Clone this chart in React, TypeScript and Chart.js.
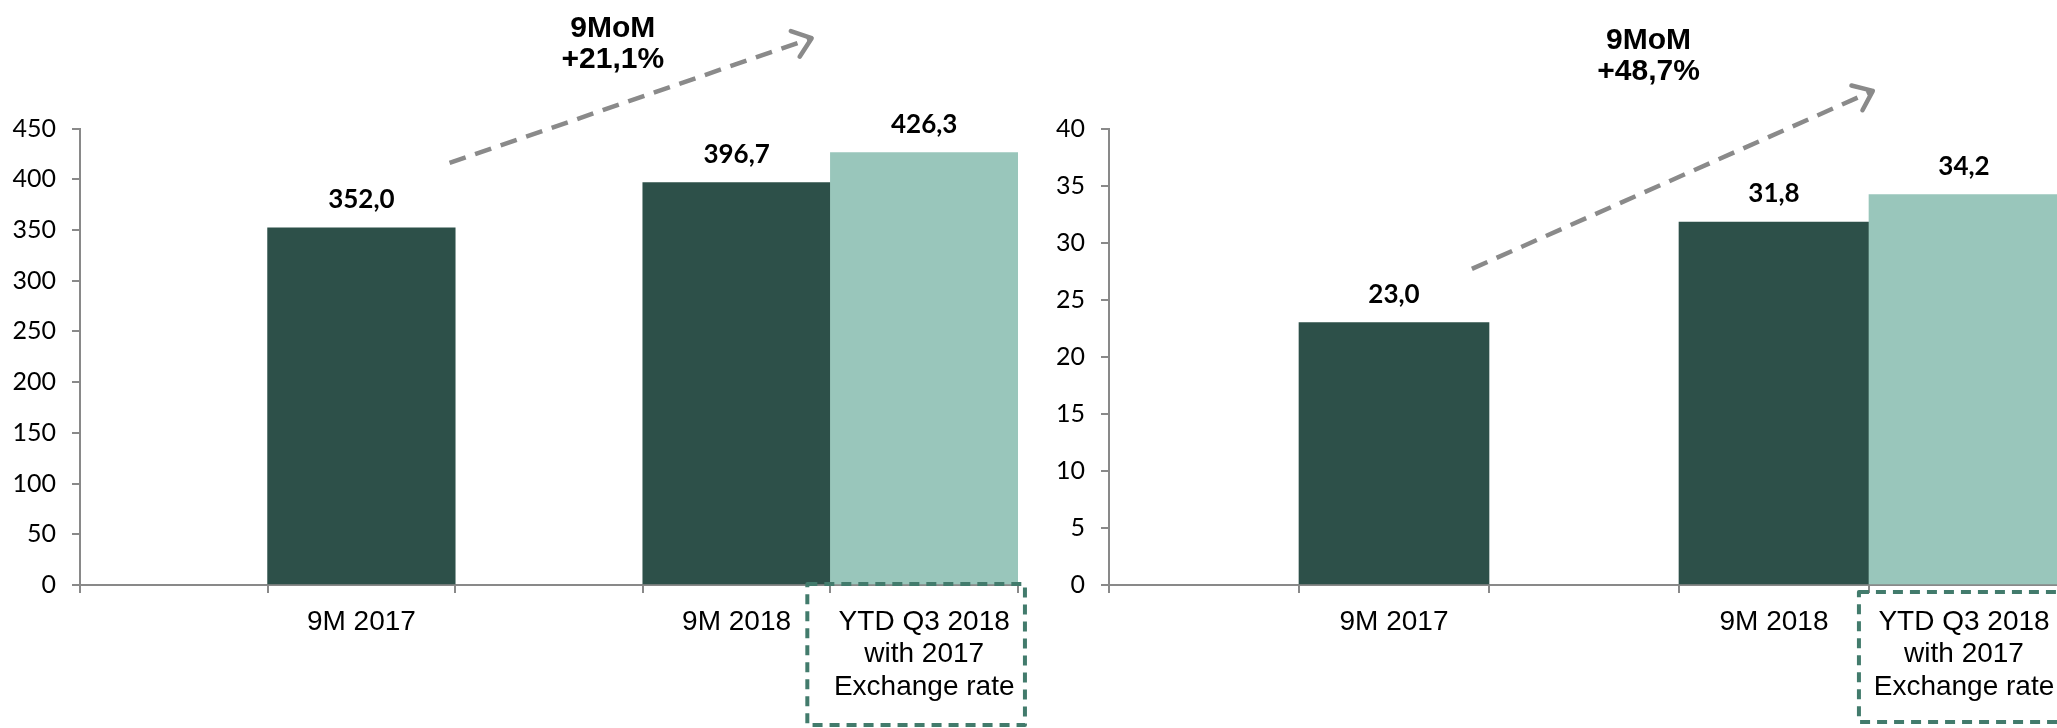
import React, { useEffect, useRef } from "react";
import { Chart, registerables } from "chart.js";

Chart.register(...registerables);

// ---------- data ----------
const categories: (string | string[])[] = [
  "",
  "9M 2017",
  "",
  "9M 2018",
  ["YTD Q3 2018", "with 2017", "Exchange rate"],
];
const leftValues: (number | null)[] = [null, 352.0, null, 396.7, 426.3];
const rightValues: (number | null)[] = [null, 23.0, null, 31.8, 34.2];
const leftTickRange = [0, 450, 50]; // min, max, step
const rightTickRange = [0, 40, 5];
const leftGrowth = ["9MoM", "+21,1%"];
const rightGrowth = ["9MoM", "+48,7%"];

// ---------- styles ----------
const DARK = "#2d5049";
const LIGHT = "#99c6bb";
const barColors = [DARK, DARK, DARK, DARK, LIGHT];
const AXIS = "#898989";
const ARROW = "#8a8a8a";
const BOX = "#427b6c";

const fmt = (v: number) => v.toFixed(1).replace(".", ",");

// annotation placement (in scale units: category index / axis value)
const leftAnn = {
  arrow: { x0: 1.47, y0: 416, x1: 3.4, y1: 539 },
  textX: 2.34,
  textY: [548, 518],
  lines: leftGrowth,
  box: { x0: 3.377, x1: 4.537, top: -1, bottom: 140 },
};
const rightAnn = {
  arrow: { x0: 1.41, y0: 27.7, x1: 3.52, y1: 43.3 },
  textX: 2.34,
  textY: [47.67, 44.95],
  lines: rightGrowth,
  box: { x0: 3.447, x1: 4.7, top: 7, bottom: 137 },
};

const overlayPlugin = {
  id: "overlay",
  afterDraw(chart: any, _args: any, opts: any) {
    const ctx: CanvasRenderingContext2D = chart.ctx;
    const xs = chart.scales.x;
    const ys = chart.scales.y;
    const ca = chart.chartArea;
    ctx.save();

    // value labels
    const meta = chart.getDatasetMeta(0);
    const data = chart.data.datasets[0].data;
    ctx.font = "bold 26px Lato";
    ctx.fillStyle = "#000";
    ctx.textAlign = "center";
    ctx.textBaseline = "alphabetic";
    meta.data.forEach((el: any, i: number) => {
      const v = data[i];
      if (v == null) return;
      ctx.fillText(fmt(v), el.x, el.y - 20);
    });

    // growth text
    ctx.font = "bold 30px 'Liberation Sans', Arial";
    ctx.textBaseline = "middle";
    const tx = xs.getPixelForValue(opts.textX);
    opts.lines.forEach((t: string, i: number) => {
      ctx.fillText(t, tx, ys.getPixelForValue(opts.textY[i]));
    });

    // dashed arrow
    const a = opts.arrow;
    const x0 = xs.getPixelForValue(a.x0);
    const y0 = ys.getPixelForValue(a.y0);
    const x1 = xs.getPixelForValue(a.x1);
    const y1 = ys.getPixelForValue(a.y1);
    ctx.strokeStyle = ARROW;
    ctx.lineWidth = 4.5;
    ctx.setLineDash([17, 10]);
    ctx.beginPath();
    ctx.moveTo(x0, y0);
    ctx.lineTo(x1, y1);
    ctx.stroke();
    ctx.setLineDash([]);
    const ang = Math.atan2(y1 - y0, x1 - x0);
    const L = 22;
    const spread = (38 * Math.PI) / 180;
    ctx.lineCap = "round";
    ctx.lineJoin = "round";
    ctx.beginPath();
    ctx.moveTo(x1 - L * Math.cos(ang - spread), y1 - L * Math.sin(ang - spread));
    ctx.lineTo(x1, y1);
    ctx.lineTo(x1 - L * Math.cos(ang + spread), y1 - L * Math.sin(ang + spread));
    ctx.stroke();

    // dashed box around last category label
    const b = opts.box;
    const bx0 = xs.getPixelForValue(b.x0);
    const bx1 = xs.getPixelForValue(b.x1);
    const by0 = ca.bottom + b.top;
    const by1 = ca.bottom + b.bottom;
    ctx.strokeStyle = BOX;
    ctx.lineWidth = 4;
    ctx.lineCap = "butt";
    ctx.setLineDash([10, 7]);
    ctx.strokeRect(bx0, by0, bx1 - bx0, by1 - by0);
    ctx.restore();
  },
};

interface Props {
  values: (number | null)[];
  range: number[];
  ann: any;
  left: number;
  width: number;
  height: number;
  yAxisWidth: number;
  padRight: number;
}

function BarChart({ values, range, ann, left, width, height, yAxisWidth, padRight }: Props) {
  const ref = useRef<HTMLCanvasElement>(null);
  useEffect(() => {
    const chart = new Chart(ref.current as HTMLCanvasElement, {
      type: "bar",
      data: {
        labels: categories as any,
        datasets: [
          {
            data: values as any,
            backgroundColor: barColors,
            borderWidth: 0,
            barPercentage: 1,
            categoryPercentage: 1,
          },
        ],
      },
      options: {
        responsive: false,
        animation: false,
        devicePixelRatio: 1,
        layout: { padding: { top: 128.5, right: padRight, left: 0, bottom: 0 } },
        plugins: {
          legend: { display: false },
          tooltip: { enabled: false },
          overlay: ann,
        } as any,
        scales: {
          x: {
            type: "category",
            offset: true,
            grid: {
              offset: true,
              drawOnChartArea: false,
              drawTicks: true,
              tickLength: 8,
              color: AXIS,
              lineWidth: 2,
            },
            border: { display: true, color: AXIS, width: 2 },
            ticks: {
              font: { family: "'Liberation Sans', Arial", size: 28, lineHeight: 1.16 },
              color: "#000",
              padding: 13,
              maxRotation: 0,
              autoSkip: false,
            },
            afterFit: (s: any) => {
              s.height = height - 585;
            },
          },
          y: {
            min: range[0],
            max: range[1],
            ticks: {
              stepSize: range[2],
              font: { family: "Lato", size: 25 },
              color: "#000",
              padding: 16,
            },
            grid: {
              drawOnChartArea: false,
              drawTicks: true,
              tickLength: 8,
              color: AXIS,
              lineWidth: 2,
            },
            border: { display: true, color: AXIS, width: 2 },
            afterFit: (s: any) => {
              s.width = yAxisWidth;
            },
          },
        },
      } as any,
      plugins: [overlayPlugin as any],
    });
    return () => chart.destroy();
  }, []);
  return (
    <canvas
      ref={ref}
      width={width}
      height={height}
      style={{ position: "absolute", left, top: 0, width, height, display: "block" }}
    />
  );
}

export default function App() {
  return (
    <div
      style={{
        position: "absolute",
        left: 0,
        top: 0,
        width: 2057,
        height: 728,
        overflow: "hidden",
        background: "#fff",
      }}
    >
      <BarChart
        values={leftValues}
        range={leftTickRange}
        ann={leftAnn}
        left={0}
        width={1030}
        height={728}
        yAxisWidth={80}
        padRight={12}
      />
      <BarChart
        values={rightValues}
        range={rightTickRange}
        ann={rightAnn}
        left={1030}
        width={1070}
        height={728}
        yAxisWidth={79}
        padRight={41}
      />
    </div>
  );
}
